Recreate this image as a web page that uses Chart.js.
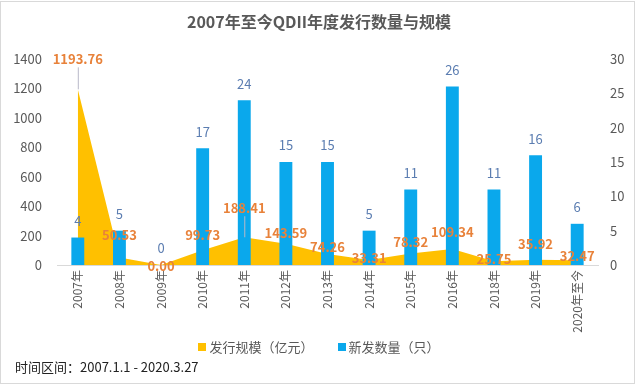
<!DOCTYPE html>
<html><head><meta charset="utf-8">
<script src="https://cdn.jsdelivr.net/npm/chart.js@4"></script>
<style>
html,body{margin:0;padding:0;background:#fff;}
#wrap{position:relative;width:638px;height:388px;overflow:hidden;}
#frame{position:absolute;left:0;top:1px;width:635px;height:383px;border:1px solid #d9d9d9;box-sizing:border-box;pointer-events:none}
#note{position:absolute;left:15px;top:358px;font:13px "Noto Sans CJK SC";line-height:18px;color:#222}
#legend{position:absolute;left:0;width:638px;top:338px;display:flex;justify-content:center;align-items:center;font:13px "Noto Sans CJK SC";line-height:18px;color:#595959}
#legend .sw{display:inline-block;width:8px;height:8px;margin-right:3px}
#legend .item{display:flex;align-items:center}
#legend .item + .item{margin-left:24px}
</style></head>
<body><div id="wrap"><canvas id="c" width="638" height="388"></canvas><div id="legend"></div><div id="frame"></div><div id="note">时间区间：2007.1.1 - 2020.3.27</div></div>
<script>
const categories = ['2007年','2008年','2009年','2010年','2011年','2012年','2013年','2014年','2015年','2016年','2018年','2019年','2020年至今'];
const scaleValues = [1193.76, 50.53, 0.00, 99.73, 188.41, 143.59, 74.26, 33.31, 78.32, 109.34, 25.75, 35.92, 32.47];
const countValues = [4, 5, 0, 17, 24, 15, 15, 5, 11, 26, 11, 16, 6];
const leftAxisTicks = [0, 200, 400, 600, 800, 1000, 1200, 1400];
const rightAxisTicks = [0, 5, 10, 15, 20, 25, 30];

const FONT = '"Noto Sans CJK SC", "Noto Sans", sans-serif';

const labelPlugin = {
  id: 'valueLabels',
  afterDatasetsDraw(chart, args, opts) {
    const ctx = chart.ctx;
    ctx.save();
    ctx.textAlign = 'center';
    ctx.textBaseline = 'middle';
    const barMeta = chart.getDatasetMeta(1);
    ctx.font = '13px ' + FONT;
    ctx.fillStyle = '#5B7DB1';
    barMeta.data.forEach((el, i) => {
      ctx.fillText(String(countValues[i]), el.x, el.y - 16.5);
    });
    const m = chart.getDatasetMeta(0);
    m.data.forEach((el, i) => {
      const off = opts.offsets[i];
      const y = el.y - off;
      if (opts.leaders.includes(i)) {
        ctx.strokeStyle = '#b8b8c8';
        ctx.lineWidth = 1;
        ctx.beginPath();
        ctx.moveTo(el.x + 0.5, y + 8);
        ctx.lineTo(el.x + 0.5, el.y);
        ctx.stroke();
      }
      ctx.font = 'bold 13px ' + FONT;
      ctx.fillStyle = '#E8823A';
      ctx.fillText(scaleValues[i].toFixed(2), el.x, y);
    });
    ctx.restore();
  }
};

const chart = new Chart(document.getElementById('c'), {
  data: {
    labels: categories,
    datasets: [
      { type: 'line', label: '发行规模（亿元）', data: scaleValues, yAxisID: 'y', order: 2,
        fill: 'origin', backgroundColor: '#FFC000', borderColor: '#FFC000', borderWidth: 0,
        pointRadius: 0, tension: 0 },
      { type: 'bar', label: '新发数量（只）', data: countValues, yAxisID: 'y1', order: 1,
        backgroundColor: '#0AA8EC', categoryPercentage: 1, barPercentage: 0.31 }
    ]
  },
  options: {
    responsive: false,
    devicePixelRatio: 1,
    animation: false,
    layout: { padding: { left: 0, right: 0, top: 0, bottom: 43 } },
    plugins: {
      tooltip: { enabled: false },
      legend: { display: false },
      title: { display: true, text: '2007年至今QDII年度发行数量与规模', color: '#595959',
        font: { size: 16, weight: 'bold', family: FONT }, padding: { top: 12, bottom: 27.8 } },
      valueLabels: { offsets: [30, 23, -1, 15, 29, 11, 7, 2, 11, 17, 2, 16, 4], leaders: [0, 4] }
    },
    scales: {
      x: {
        grid: { display: false, drawTicks: false },
        border: { display: true, color: '#d9d9d9' },
        ticks: { autoSkip: false, minRotation: 90, maxRotation: 90, color: '#595959', padding: 5,
          font: { size: 12, family: FONT } },
        afterFit: s => { s.height = 80; }
      },
      y: {
        position: 'left', min: 0, max: 1400,
        grid: { display: false, drawTicks: false }, border: { display: false },
        afterBuildTicks: s => { s.ticks = leftAxisTicks.map(v => ({ value: v })); },
        ticks: { color: '#595959', padding: 15, font: { size: 13, family: FONT }, callback: v => String(v) },
        afterFit: s => { s.width = 57; }
      },
      y1: {
        position: 'right', min: 0, max: 30,
        grid: { display: false, drawTicks: false }, border: { display: false },
        afterBuildTicks: s => { s.ticks = rightAxisTicks.map(v => ({ value: v })); },
        ticks: { color: '#595959', padding: 12, font: { size: 13, family: FONT }, callback: v => String(v) },
        afterFit: s => { s.width = 40; }
      }
    }
  },
  plugins: [labelPlugin]
});

const legendEl = document.getElementById('legend');
chart.data.datasets.forEach(ds => {
  const item = document.createElement('span');
  item.className = 'item';
  const sw = document.createElement('span');
  sw.className = 'sw';
  sw.style.background = ds.backgroundColor;
  const tx = document.createElement('span');
  tx.textContent = ds.label;
  item.appendChild(sw);
  item.appendChild(tx);
  legendEl.appendChild(item);
});
</script>
</body></html>
